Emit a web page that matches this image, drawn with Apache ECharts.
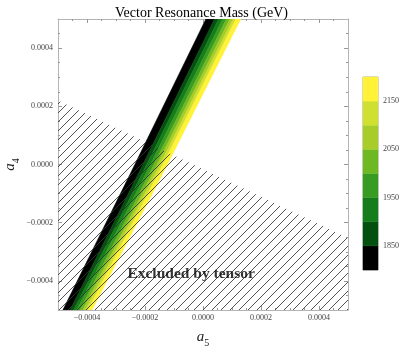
<!DOCTYPE html>
<html><head><meta charset="utf-8">
<script src="https://cdn.jsdelivr.net/npm/echarts@6/dist/echarts.min.js"></script>
<style>html,body{margin:0;padding:0;background:#fff}#c{width:403px;height:348px}</style>
</head><body><div id="c"></div>
<script>
// ---- data ----
const titleText = 'Vector Resonance Mass (GeV)';
const massLevels = [1800, 1850, 1900, 1950, 2000, 2050, 2100, 2150, 2200];
const levelColors = ['#000000', '#03500f', '#157d19', '#389b22', '#6eb823', '#a8cd2a', '#d0e031', '#fff238'];
const colorbarLabels = [1850, 1950, 2050, 2150];

// contour boundaries (a5 value) along three rows of a4
const bandRowsA4 = [-0.0005, 0, 0.0005];
const boundaryA5Bottom = [-0.000483, -0.000458, -0.000446, -0.000435, -0.000424, -0.000414, -0.000405, -0.000396, -0.000383];
const boundaryA5Middle = [-0.000235, -0.000207, -0.000194, -0.000181, -0.000169, -0.000158, -0.000148, -0.000138, -0.000123];
const boundaryA5Top = [0.000010, 0.000040, 0.000054, 0.000068, 0.000081, 0.000093, 0.000104, 0.000114, 0.000130];

// excluded (hatched) region
const hatchA5 = [-0.0005, 0.0005, 0.0005, -0.0005];
const hatchA4 = [0.00022, -0.000253, -0.0005, -0.0005];
const annotationText = 'Excluded by tensor';
const annotationA5 = -0.000041;
const annotationA4 = -0.000376;

const majorTicks = [-0.0004, -0.0002, 0, 0.0002, 0.0004];
const minorTicks = [-0.00045, -0.00035, -0.0003, -0.00025, -0.00015, -0.0001, -0.00005,
  0.00005, 0.0001, 0.00015, 0.00025, 0.0003, 0.00035, 0.00045];

// ---- rendering ----
const SERIF = 'Liberation Serif';
const boundaryRows = [boundaryA5Bottom, boundaryA5Middle, boundaryA5Top];

const hatchCanvas = document.createElement('canvas');
hatchCanvas.width = 9; hatchCanvas.height = 9;
(function () {
  const g = hatchCanvas.getContext('2d');
  g.strokeStyle = '#333'; g.lineWidth = 0.85;
  g.beginPath();
  g.moveTo(-1, 10); g.lineTo(10, -1);
  g.moveTo(-1, 1); g.lineTo(1, -1);
  g.moveTo(8, 10); g.lineTo(10, 8);
  g.stroke();
})();

function fmt(v) {
  const s = (Math.abs(v) < 1e-12 ? 0 : v).toFixed(4);
  return s.replace('-', '\u2212');
}

function frameAxis(isX, pos, major, labels) {
  return {
    type: 'value', gridIndex: 0, position: pos,
    min: -0.0005, max: 0.0005,
    splitLine: { show: false },
    axisLine: { show: major, onZero: false, lineStyle: { color: '#b4b4b4', width: 1 } },
    axisTick: { show: true, inside: true, length: major ? 4 : 2,
      customValues: major ? majorTicks : minorTicks,
      lineStyle: { color: '#999', width: 1 } },
    axisLabel: { show: labels, customValues: majorTicks, formatter: fmt,
      fontFamily: SERIF, fontSize: 8, color: '#444', margin: isX ? 4 : 5 }
  };
}

const richName = {
  a: { fontFamily: SERIF, fontStyle: 'italic', fontSize: 15, color: '#222', padding: [0, 0, 3, 0] },
  s: { fontFamily: SERIF, fontSize: 10, color: '#222', verticalAlign: 'bottom' }
};

const xAxes = [
  Object.assign(frameAxis(true, 'bottom', true, true), { name: '{a|a}{s|5}', nameLocation: 'middle', nameGap: 20, nameMoveOverlap: false, nameTextStyle: { rich: richName } }),
  frameAxis(true, 'top', true, false),
  frameAxis(true, 'bottom', false, false),
  frameAxis(true, 'top', false, false),
  { type: 'category', gridIndex: 1, data: [''], show: false }
];
const yAxes = [
  Object.assign(frameAxis(false, 'left', true, true), { name: '{a|a}{s|4}', nameLocation: 'middle', nameGap: 37, nameMoveOverlap: false, nameTextStyle: { rich: richName } }),
  frameAxis(false, 'right', true, false),
  frameAxis(false, 'left', false, false),
  frameAxis(false, 'right', false, false),
  { type: 'value', gridIndex: 1, position: 'right', min: massLevels[0], max: massLevels[massLevels.length - 1],
    splitLine: { show: false }, axisLine: { show: false }, axisTick: { show: false },
    axisLabel: { customValues: colorbarLabels, formatter: v => String(v), fontFamily: SERIF, fontSize: 8, color: '#444', margin: 5 } }
];

const chart = echarts.init(document.getElementById('c'), null, { renderer: 'canvas' });
chart.setOption({
  animation: false,
  backgroundColor: '#fff',
  title: { text: titleText, left: 'center', top: 1,
    textStyle: { fontFamily: SERIF, fontSize: 14, fontWeight: 'normal', color: '#000' } },
  grid: [
    { left: 58, right: 55, top: 19, bottom: 38, outerBoundsMode: 'none' },
    { left: 363, top: 77, width: 15, height: 193, show: true, borderColor: '#aaa', borderWidth: 1, outerBoundsMode: 'none' }
  ],
  xAxis: xAxes,
  yAxis: yAxes,
  series: [
    {
      type: 'custom', xAxisIndex: 0, yAxisIndex: 0, clip: true, z: 2,
      data: levelColors.map((c, i) => [boundaryA5Bottom[i], bandRowsA4[0]]),
      renderItem: function (params, api) {
        const i = params.dataIndex;
        const pts = [];
        for (let k = 0; k < bandRowsA4.length; k++) pts.push(api.coord([boundaryRows[k][i], bandRowsA4[k]]));
        for (let k = bandRowsA4.length - 1; k >= 0; k--) pts.push(api.coord([boundaryRows[k][i + 1], bandRowsA4[k]]));
        return { type: 'polygon', shape: { points: pts },
          style: { fill: levelColors[i], stroke: levelColors[i], lineWidth: 0.6 } };
      }
    },
    {
      type: 'custom', xAxisIndex: 0, yAxisIndex: 0, clip: true, z: 3,
      data: [[hatchA5[0], hatchA4[0]]],
      renderItem: function (params, api) {
        const pts = hatchA5.map((x, k) => api.coord([x, hatchA4[k]]));
        return { type: 'polygon', shape: { points: pts },
          style: { fill: { image: hatchCanvas, repeat: 'repeat' }, stroke: null } };
      }
    },
    {
      type: 'scatter', xAxisIndex: 0, yAxisIndex: 0, z: 5, symbolSize: 0,
      data: [[annotationA5, annotationA4]],
      label: { show: true, position: 'inside', formatter: annotationText,
        fontFamily: SERIF, fontWeight: 'bold', fontSize: 15.5, color: '#000' }
    },
    {
      type: 'custom', xAxisIndex: 4, yAxisIndex: 4, z: 2,
      data: massLevels.slice(0, -1).map((lo, i) => [0, lo, massLevels[i + 1]]),
      encode: { x: 0, y: [1, 2] },
      renderItem: function (params, api) {
        const p0 = api.coord([0, api.value(1)]);
        const p1 = api.coord([0, api.value(2)]);
        const w = api.size([1, 0])[0];
        return { type: 'rect', shape: { x: p0[0] - w / 2, y: p1[1], width: w, height: p0[1] - p1[1] },
          style: { fill: levelColors[params.dataIndex], stroke: levelColors[params.dataIndex], lineWidth: 0.4 } };
      }
    }
  ]
});
</script></body></html>
